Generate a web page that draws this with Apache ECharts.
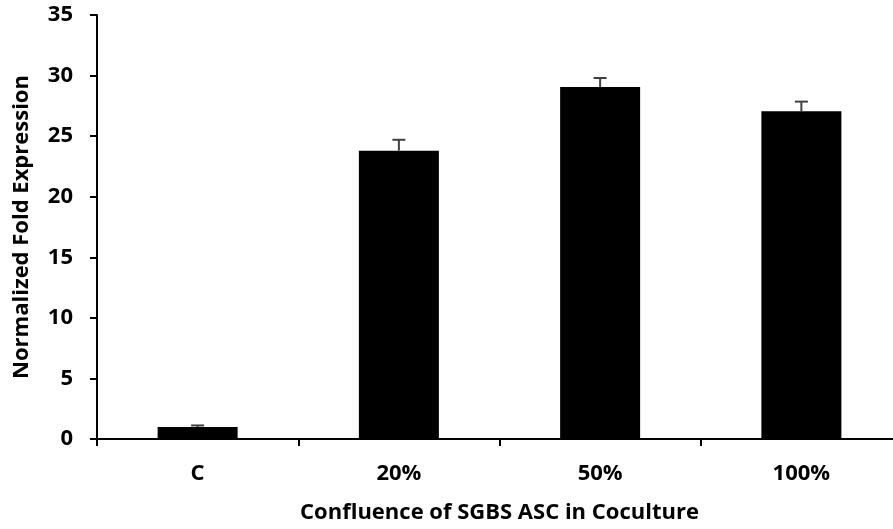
<!DOCTYPE html>
<html>
<head>
<meta charset="utf-8">
<script src="https://cdn.jsdelivr.net/npm/echarts@6/dist/echarts.min.js"></script>
<style>
html,body{margin:0;padding:0;background:#fff;}
#chart{width:893px;height:529px;}
</style>
</head>
<body>
<div id="chart"></div>
<script>
const categories = ['C', '20%', '50%', '100%'];
const values = [1.0, 23.8, 29.05, 27.05];
const errors = [0.12, 0.9, 0.75, 0.8];
const yTicks = [0, 5, 10, 15, 20, 25, 30, 35];

const FONT = 'Open Sans';
const chart = echarts.init(document.getElementById('chart'));
const errData = categories.map((c, i) => [i, values[i], values[i] + errors[i]]);

chart.setOption({
  animation: false,
  backgroundColor: '#ffffff',
  grid: { left: 97, width: 805, top: 15, height: 424, outerBoundsMode: 'none', containLabel: false },
  xAxis: {
    type: 'category',
    data: categories,
    boundaryGap: true,
    axisLine: { lineStyle: { color: '#000', width: 2 } },
    axisTick: { show: true, length: 7, lineStyle: { color: '#000', width: 2 } },
    axisLabel: { color: '#000', fontFamily: FONT, fontWeight: 'bold', fontSize: 22, margin: 24 },
    name: 'Confluence of SGBS ASC in Coculture',
    nameLocation: 'middle',
    nameGap: 63,
    nameTextStyle: { color: '#000', fontFamily: FONT, fontWeight: 'bold', fontSize: 22 }
  },
  yAxis: {
    type: 'value',
    min: yTicks[0],
    max: yTicks[yTicks.length - 1],
    interval: 5,
    splitLine: { show: false },
    axisLine: { show: true, lineStyle: { color: '#000', width: 2 } },
    axisTick: { show: true, length: 7, lineStyle: { color: '#000', width: 2 } },
    axisLabel: { color: '#000', fontFamily: FONT, fontWeight: 'bold', fontSize: 22, margin: 24 },
    name: 'Normalized Fold Expression',
    nameLocation: 'middle',
    nameGap: 64,
    nameTextStyle: { color: '#000', fontFamily: FONT, fontWeight: 'bold', fontSize: 22 }
  },
  series: [
    {
      type: 'bar',
      data: values,
      barWidth: 80,
      itemStyle: { color: '#000' }
    },
    {
      type: 'custom',
      data: errData,
      z: 3,
      renderItem: function (params, api) {
        const x = api.value(0);
        const base = api.coord([x, api.value(1)]);
        const top = api.coord([x, api.value(2)]);
        const hw = 6.5;
        const style = { stroke: '#404040', lineWidth: 2 };
        return {
          type: 'group',
          children: [
            { type: 'line', shape: { x1: base[0], y1: base[1], x2: top[0], y2: top[1] }, style: style },
            { type: 'line', shape: { x1: top[0] - hw, y1: top[1], x2: top[0] + hw, y2: top[1] }, style: style }
          ]
        };
      }
    }
  ]
});
</script>
</body>
</html>
